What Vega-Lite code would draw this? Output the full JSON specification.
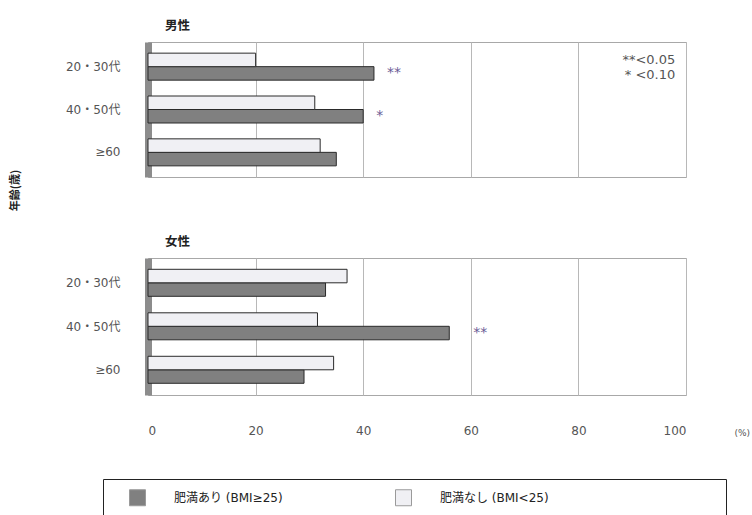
{
  "$schema": "https://vega.github.io/schema/vega-lite/v6.json",
  "background": "white",
  "padding": {"left": 8, "top": 19, "right": 0, "bottom": 0},
  "datasets": {
    "bmi": [
      {"panel": "男性", "age": "20・30代", "series": "肥満あり (BMI≥25)", "value": 42, "sig": "**"},
      {"panel": "男性", "age": "20・30代", "series": "肥満なし (BMI<25)", "value": 20, "sig": ""},
      {"panel": "男性", "age": "40・50代", "series": "肥満あり (BMI≥25)", "value": 40, "sig": "*"},
      {"panel": "男性", "age": "40・50代", "series": "肥満なし (BMI<25)", "value": 31, "sig": ""},
      {"panel": "男性", "age": "≥60", "series": "肥満あり (BMI≥25)", "value": 35, "sig": ""},
      {"panel": "男性", "age": "≥60", "series": "肥満なし (BMI<25)", "value": 32, "sig": ""},
      {"panel": "女性", "age": "20・30代", "series": "肥満あり (BMI≥25)", "value": 33, "sig": ""},
      {"panel": "女性", "age": "20・30代", "series": "肥満なし (BMI<25)", "value": 37, "sig": ""},
      {"panel": "女性", "age": "40・50代", "series": "肥満あり (BMI≥25)", "value": 56, "sig": "**"},
      {"panel": "女性", "age": "40・50代", "series": "肥満なし (BMI<25)", "value": 31.5, "sig": ""},
      {"panel": "女性", "age": "≥60", "series": "肥満あり (BMI≥25)", "value": 29, "sig": ""},
      {"panel": "女性", "age": "≥60", "series": "肥満なし (BMI<25)", "value": 34.5, "sig": ""}
    ],
    "notes": [
      {"age": "20・30代", "pos": 98, "note": "**<0.05\n* <0.10"}
    ]
  },
  "config": {
    "font": "'DejaVu Sans', 'Noto Sans CJK JP'",
    "view": {"stroke": "#a8a8a8", "strokeWidth": 1},
    "axis": {
      "labelFont": "'DejaVu Sans', 'Noto Sans CJK JP'",
      "labelColor": "#555555",
      "labelFontSize": 12,
      "ticks": false,
      "gridColor": "#b8b8b8",
      "domain": false
    },
    "legend": {"strokeColor": "#222222", "padding": 10},
    "title": {
      "font": "Noto Sans CJK JP",
      "fontSize": 12.5,
      "fontWeight": "bold",
      "anchor": "start",
      "frame": "group",
      "dx": 17,
      "color": "#222222",
      "offset": 10
    }
  },
  "spacing": 23,
  "resolve": {"scale": {"color": "shared"}},
  "vconcat": [
    {
      "title": "男性",
      "width": 538,
      "height": 135,
      "encoding": {
        "y": {
          "field": "age",
          "type": "nominal",
          "sort": ["20・30代", "40・50代", "≥60"],
          "scale": {"paddingInner": 0.37, "paddingOuter": 0.26},
          "axis": {
            "title": "年齢(歳)",
            "titleFont": "Noto Sans CJK JP",
            "titleFontSize": 11,
            "titleFontWeight": "bold",
            "titleColor": "#222222",
            "titleAngle": 270,
            "titleAlign": "center",
            "titleBaseline": "middle",
            "titleX": -133,
            "titleY": 148,
            "labelPadding": 28,
            "domain": true,
            "domainColor": "#8c8c8c",
            "domainWidth": 7
          }
        },
        "x": {
          "type": "quantitative",
          "scale": {"domain": [0, 100], "nice": false},
          "axis": {"values": [0, 20, 40, 60, 80, 100], "labels": false, "title": null, "grid": true}
        }
      },
      "layer": [
        {
          "data": {"name": "bmi"},
          "transform": [{"filter": "datum.panel === '男性'"}],
          "mark": {"type": "bar", "stroke": "#2a2a2a", "strokeWidth": 1},
          "encoding": {
            "x": {"field": "value", "type": "quantitative"},
            "yOffset": {"field": "series", "type": "nominal", "sort": ["肥満なし (BMI<25)", "肥満あり (BMI≥25)"]},
            "color": {
              "field": "series",
              "type": "nominal",
              "scale": {"domain": ["肥満あり (BMI≥25)", "肥満なし (BMI<25)"], "range": ["#808080", "#f0f0f4"]},
              "legend": {
                "orient": "none",
                "legendX": -45,
                "legendY": 437,
                "direction": "horizontal",
                "columns": 2,
                "title": null,
                "symbolType": "square",
                "symbolSize": 256,
                "symbolOffset": 16,
                "symbolStrokeColor": "#9a9a9a",
                "symbolStrokeWidth": 1,
                "labelFont": "'DejaVu Sans', 'Noto Sans CJK JP'",
                "labelFontSize": 12,
                "labelColor": "#222222",
                "labelOffset": 28,
                "labelLimit": 800,
                "labelExpr": "datum.value === '肥満なし (BMI<25)' ? datum.label + '⠀⠀⠀⠀⠀⠀⠀⠀⠀⠀⠀⠀⠀⠀⠀⠀⠀⠀⠀' : datum.label",
                "columnPadding": 96
              }
            }
          }
        },
        {
          "data": {"name": "bmi"},
          "transform": [{"filter": "datum.panel === '男性' && datum.sig !== ''"}],
          "mark": {"type": "text", "align": "left", "baseline": "middle", "dx": 13, "fontSize": 14, "color": "#6b5b95"},
          "encoding": {
            "x": {"field": "value", "type": "quantitative"},
            "yOffset": {"field": "series", "type": "nominal", "sort": ["肥満なし (BMI<25)", "肥満あり (BMI≥25)"]},
            "text": {"field": "sig"}
          }
        },
        {
          "data": {"name": "notes"},
          "mark": {
            "type": "text",
            "align": "right",
            "baseline": "middle",
            "dy": -7,
            "fontSize": 13,
            "color": "#555555",
            "lineHeight": 15,
            "lineBreak": "\n"
          },
          "encoding": {
            "x": {"field": "pos", "type": "quantitative"},
            "y": {"field": "age", "type": "nominal"},
            "text": {"field": "note"}
          }
        }
      ]
    },
    {
      "title": "女性",
      "width": 538,
      "height": 137,
      "data": {"name": "bmi"},
      "transform": [{"filter": "datum.panel === '女性'"}],
      "encoding": {
        "y": {
          "field": "age",
          "type": "nominal",
          "sort": ["20・30代", "40・50代", "≥60"],
          "scale": {"paddingInner": 0.37, "paddingOuter": 0.26},
          "axis": {
            "title": null,
            "labelPadding": 28,
            "domain": true,
            "domainColor": "#8c8c8c",
            "domainWidth": 7
          }
        },
        "x": {
          "field": "value",
          "type": "quantitative",
          "scale": {"domain": [0, 100], "nice": false},
          "axis": {
            "values": [0, 20, 40, 60, 80, 100],
            "grid": true,
            "labelPadding": 30,
            "title": "(%)",
            "titleFont": "'DejaVu Sans', 'Noto Sans CJK JP'",
            "titleFontSize": 9,
            "titleFontWeight": "normal",
            "titleColor": "#555555",
            "titleAlign": "left",
            "titleBaseline": "middle",
            "titleX": 586,
            "titleY": 37
          }
        }
      },
      "layer": [
        {
          "mark": {"type": "bar", "stroke": "#2a2a2a", "strokeWidth": 1},
          "encoding": {
            "yOffset": {"field": "series", "type": "nominal", "sort": ["肥満なし (BMI<25)", "肥満あり (BMI≥25)"]},
            "color": {
              "field": "series",
              "type": "nominal",
              "scale": {"domain": ["肥満あり (BMI≥25)", "肥満なし (BMI<25)"], "range": ["#808080", "#f0f0f4"]},
              "legend": {
                "orient": "none",
                "legendX": -45,
                "legendY": 437,
                "direction": "horizontal",
                "columns": 2,
                "title": null,
                "symbolType": "square",
                "symbolSize": 256,
                "symbolOffset": 16,
                "symbolStrokeColor": "#9a9a9a",
                "symbolStrokeWidth": 1,
                "labelFont": "'DejaVu Sans', 'Noto Sans CJK JP'",
                "labelFontSize": 12,
                "labelColor": "#222222",
                "labelOffset": 28,
                "labelLimit": 800,
                "labelExpr": "datum.value === '肥満なし (BMI<25)' ? datum.label + '⠀⠀⠀⠀⠀⠀⠀⠀⠀⠀⠀⠀⠀⠀⠀⠀⠀⠀⠀' : datum.label",
                "columnPadding": 96
              }
            }
          }
        },
        {
          "mark": {"type": "text", "align": "left", "baseline": "middle", "dx": 24, "fontSize": 14, "color": "#6b5b95"},
          "transform": [{"filter": "datum.sig !== ''"}],
          "encoding": {
            "yOffset": {"field": "series", "type": "nominal", "sort": ["肥満なし (BMI<25)", "肥満あり (BMI≥25)"]},
            "text": {"field": "sig"}
          }
        }
      ]
    }
  ]
}
